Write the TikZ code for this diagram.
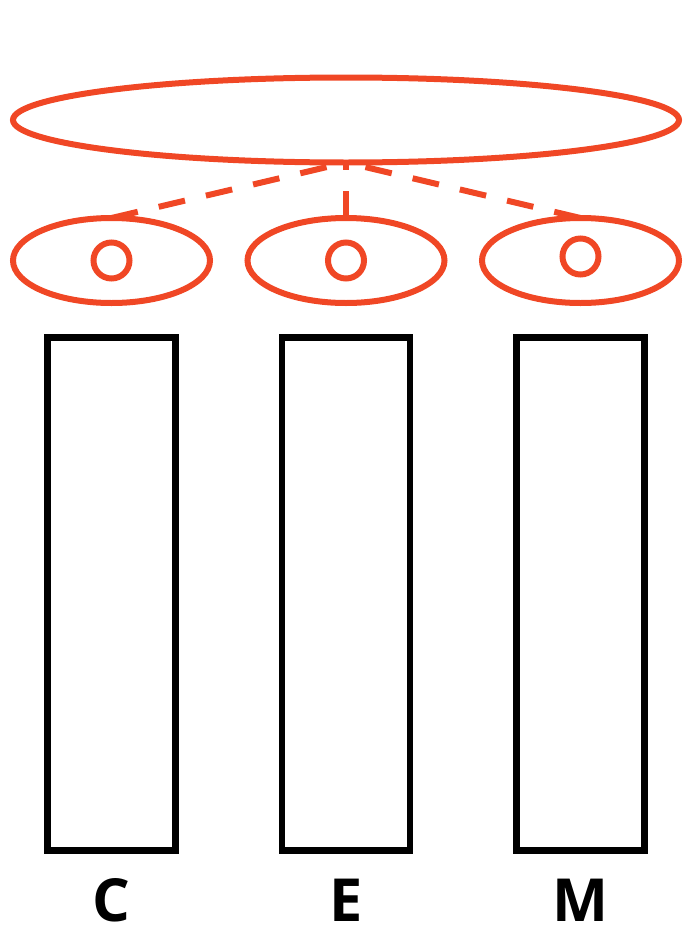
\documentclass[tikz,border=0pt]{standalone}
\usepackage{fontspec}
\setmainfont{Open Sans}
\usetikzlibrary{shapes.geometric}
\definecolor{accent}{RGB}{240,71,37}
\begin{document}
\begin{tikzpicture}[x=1pt,y=-1pt,
  redline/.style={draw=accent,line width=6pt},
  bigoval/.style={redline,ellipse,inner sep=0pt,outer sep=0pt,minimum width=666pt,minimum height=85pt},
  smalloval/.style={redline,ellipse,inner sep=0pt,outer sep=0pt,minimum width=197pt,minimum height=85pt},
  dot/.style={redline,circle,inner sep=0pt,outer sep=0pt,minimum size=36pt},
  link/.style={draw=accent,line width=6pt,dash pattern=on 27pt off 21.5pt},
  bar/.style={draw=black,line width=6.5pt,rectangle,inner sep=0pt,outer sep=0pt,minimum width=128pt,minimum height=513pt},
  letter/.style={font=\fontsize{59.4}{60}\selectfont\bfseries,anchor=base,inner sep=0pt}]
\useasboundingbox (0,0) rectangle (687,926);
\node[bigoval] (top) at (346,120) {};
\node[smalloval] (o1) at (111.5,260.5) {};
\node[smalloval] (o2) at (346,260.5) {};
\node[smalloval] (o3) at (580.5,260.5) {};
\node[dot] (c1) at (111.5,260.5) {};
\node[dot] (c2) at (346,260.5) {};
\node[dot] (c3) at (580.5,256.5) {};
\draw[link] (o1.north) -- (top.south);
\draw[link] (o2.north) -- (top.south);
\draw[link] (o3.north) -- (top.south);
\node[bar] (b1) at (111.5,594.1) {};
\node[bar] (b2) at (346,594.1) {};
\node[bar] (b3) at (580.5,594.1) {};
\node[letter] (lc) at (111.5,921.5) {C};
\node[letter] (le) at (346,921.5) {E};
\node[letter] (lm) at (580.5,921.5) {M};
\end{tikzpicture}
\end{document}
